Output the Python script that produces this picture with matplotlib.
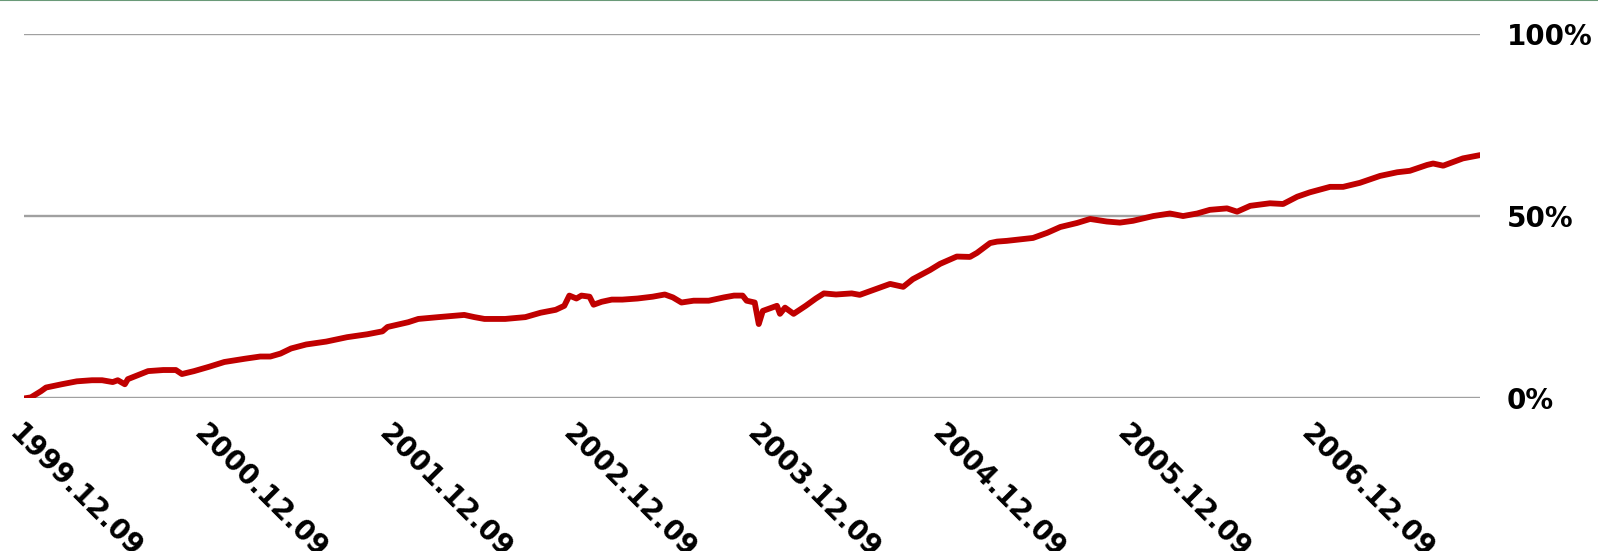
import matplotlib
matplotlib.use("Agg")
import matplotlib.pyplot as plt
import matplotlib.transforms as mtransforms
import pandas as pd

# cumulative return
dates = [
    "1999-12-09", "1999-12-23", "2000-01-12", "2000-01-22", "2000-02-22", "2000-03-23",
    "2000-04-22", "2000-05-12", "2000-06-02", "2000-06-12", "2000-06-26", "2000-07-02",
    "2000-07-22", "2000-08-11", "2000-09-10", "2000-10-05", "2000-10-17", "2000-11-10",
    "2000-12-10", "2001-01-09", "2001-02-19", "2001-03-21", "2001-04-10", "2001-04-30",
    "2001-05-21", "2001-06-20", "2001-07-30", "2001-09-09", "2001-10-19", "2001-11-18",
    "2001-11-28", "2002-01-08", "2002-01-28", "2002-03-09", "2002-04-29", "2002-05-19",
    "2002-06-08", "2002-07-19", "2002-08-28", "2002-09-27", "2002-10-27", "2002-11-13",
    "2002-11-23", "2002-12-07", "2002-12-17", "2003-01-02", "2003-01-10", "2003-01-26",
    "2003-02-15", "2003-03-08", "2003-04-07", "2003-05-07", "2003-05-31", "2003-06-16",
    "2003-07-03", "2003-07-27", "2003-08-26", "2003-09-25", "2003-10-15", "2003-11-01",
    "2003-11-09", "2003-11-25", "2003-12-03", "2003-12-11", "2004-01-08", "2004-01-14",
    "2004-01-24", "2004-02-10", "2004-03-05", "2004-03-25", "2004-04-10", "2004-05-04",
    "2004-06-04", "2004-06-20", "2004-08-19", "2004-09-14", "2004-10-03", "2004-11-06",
    "2004-11-26", "2004-12-29", "2005-01-24", "2005-02-07", "2005-03-05", "2005-03-19",
    "2005-04-07", "2005-05-29", "2005-06-26", "2005-07-22", "2005-08-24", "2005-09-19",
    "2005-10-22", "2005-11-17", "2005-12-13", "2006-01-22", "2006-02-24", "2006-03-22",
    "2006-04-19", "2006-05-14", "2006-06-17", "2006-07-07", "2006-08-02", "2006-09-10",
    "2006-10-06", "2006-11-03", "2006-11-28", "2007-01-07", "2007-02-02", "2007-03-07",
    "2007-04-16", "2007-05-20", "2007-06-14", "2007-07-18", "2007-07-30", "2007-08-19",
    "2007-09-27", "2007-10-31",
]
returns = [
    0.0, 0.3, 2.0, 3.0, 3.9, 4.7,
    5.0, 5.0, 4.5, 5.0, 3.9, 5.3,
    6.4, 7.5, 7.8, 7.8, 6.7, 7.5,
    8.7, 10.0, 10.9, 11.5, 11.5, 12.3,
    13.7, 14.8, 15.6, 16.8, 17.6, 18.4,
    19.6, 20.9, 21.8, 22.3, 22.9, 22.3,
    21.8, 21.8, 22.3, 23.5, 24.3, 25.4,
    28.2, 27.4, 28.2, 27.9, 25.7, 26.5,
    27.1, 27.1, 27.4, 27.9, 28.5, 27.7,
    26.3, 26.8, 26.8, 27.7, 28.2, 28.2,
    26.8, 26.3, 20.4, 24.0, 25.4, 23.2,
    24.9, 23.2, 25.4, 27.4, 28.8, 28.5,
    28.8, 28.4, 31.4, 30.6, 32.7, 35.2,
    36.9, 38.9, 38.8, 39.9, 42.6, 43.0,
    43.2, 44.0, 45.4, 47.0, 48.1, 49.2,
    48.5, 48.2, 48.7, 50.0, 50.7, 50.0,
    50.7, 51.7, 52.1, 51.2, 52.8, 53.5,
    53.3, 55.3, 56.5, 58.0, 58.0, 59.1,
    61.0, 62.0, 62.4, 64.0, 64.4, 63.8,
    65.8, 66.7,
]
tick_dates = ["1999-12-09", "2000-12-09", "2001-12-09", "2002-12-09",
              "2003-12-09", "2004-12-09", "2005-12-09", "2006-12-09"]
y_ticks = [0, 50, 100]

x = pd.to_datetime(dates)
ticks = pd.to_datetime(tick_dates)

fig = plt.figure(figsize=(15.98, 5.51), dpi=100)
ax = fig.add_axes([0.0149, 0.2768, 0.9113, 0.6622])

ax.plot(x, returns, color="#C00000", lw=4.2, solid_capstyle="round",
        solid_joinstyle="round", zorder=3)

ax.set_xlim(x[0], x[-1])
ax.set_ylim(0, 100)
ax.set_xticks(ticks)
ax.set_xticklabels([t.strftime("%Y.%m.%d") for t in ticks], rotation=-45,
                   ha="left", va="top", rotation_mode="anchor",
                   fontsize=20, fontweight="bold")
# nudge the slanted labels a bit to the right
shift = mtransforms.ScaledTranslation(6 / 100, 0, fig.dpi_scale_trans)
for lbl in ax.get_xticklabels():
    lbl.set_transform(lbl.get_transform() + shift)
ax.yaxis.tick_right()
ax.set_yticks(y_ticks)
ax.set_yticklabels([f"{v}%" for v in y_ticks], fontsize=20, fontweight="bold")
ax.tick_params(axis="both", length=0)
ax.tick_params(axis="y", pad=19)
ax.tick_params(axis="x", pad=15)
ax.grid(axis="y", color="#A0A0A0", lw=1.7)
ax.set_axisbelow(True)
for s in ax.spines.values():
    s.set_visible(False)

fig.add_artist(plt.Line2D([0, 1], [1, 1], transform=fig.transFigure,
                          color="#6A9A78", lw=1.5))

fig.savefig("out.png", dpi=100)
